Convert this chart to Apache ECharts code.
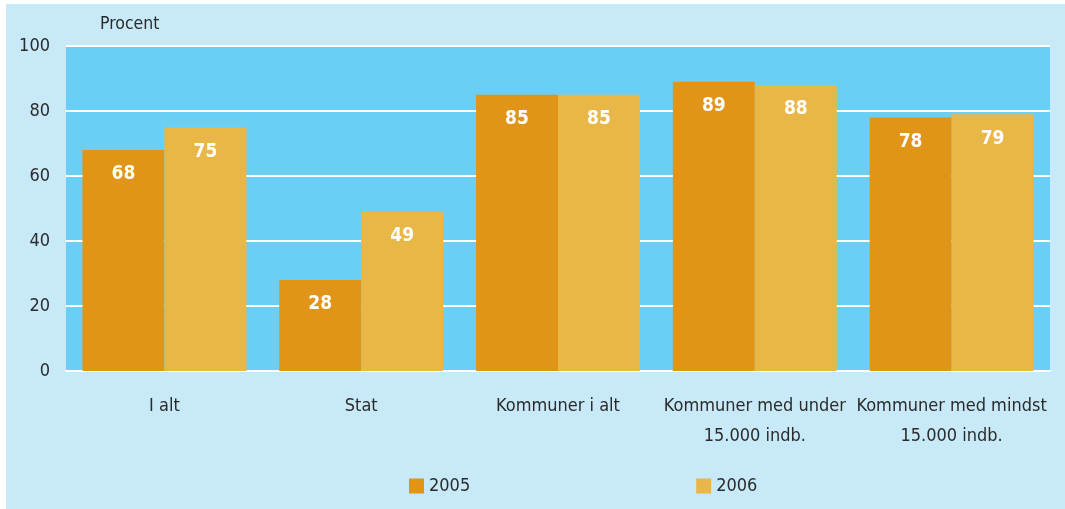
<!DOCTYPE html>
<html>
<head>
<meta charset="utf-8">
<script src="https://cdn.jsdelivr.net/npm/echarts@6/dist/echarts.min.js"></script>
<style>
  html, body { margin: 0; padding: 0; background: #ffffff; }
  #chart { width: 1065px; height: 509px; }
</style>
</head>
<body>
<div id="chart"></div>
<script>
// Andel (procent) efter sektor, 2005 og 2006
const categories = ['I alt', 'Stat', 'Kommuner i alt', 'Kommuner med under\n15.000 indb.', 'Kommuner med mindst\n15.000 indb.'];
const values2005 = [68, 28, 85, 89, 78];
const values2006 = [75, 49, 85, 88, 79];
const yTicks = [0, 20, 40, 60, 80, 100];

const FONT = '"DejaVu Sans Condensed", "Noto Sans", sans-serif';
const chart = echarts.init(document.getElementById('chart'), null, { renderer: 'canvas' });

const barLabel = {
  show: true,
  position: 'insideTop',
  distance: 15,
  color: '#ffffff',
  fontFamily: FONT,
  fontSize: 19,
  fontWeight: 'bold'
};

chart.setOption({
  backgroundColor: '#ffffff',
  animation: false,
  graphic: [{
    type: 'rect',
    z: -10,
    shape: { x: 6, y: 4, width: 1059, height: 505 },
    style: { fill: '#c8eaf8' }
  }, {
    type: 'text',
    left: 100,
    top: 15,
    style: { text: 'Procent', fill: '#2b2b2b', font: '17.5px ' + FONT }
  }],
  grid: {
    left: 66, right: 15, top: 46, bottom: 138,
    show: true, backgroundColor: '#6bcff5', borderWidth: 0
  },
  legend: {
    left: 409, top: 477, padding: 0,
    itemWidth: 15, itemHeight: 15, itemGap: 226,
    icon: 'rect',
    textStyle: { fontFamily: FONT, fontSize: 18, color: '#2b2b2b' },
    data: ['2005', '2006']
  },
  xAxis: {
    type: 'category',
    data: categories,
    axisLine: { show: true, lineStyle: { color: '#ffffff', width: 2 } },
    axisTick: { show: false },
    axisLabel: {
      fontFamily: FONT, fontSize: 18, color: '#2b2b2b',
      lineHeight: 30, margin: 20, interval: 0
    }
  },
  yAxis: {
    type: 'value',
    min: yTicks[0], max: yTicks[yTicks.length - 1], interval: 20,
    axisLine: { show: false },
    axisTick: { show: false },
    axisLabel: { fontFamily: FONT, fontSize: 18, color: '#2b2b2b', margin: 16 },
    splitLine: { lineStyle: { color: '#ffffff', width: 2 } }
  },
  series: [{
    name: '2005',
    type: 'bar',
    data: values2005,
    barGap: '0%',
    barCategoryGap: '16.7%',
    itemStyle: { color: '#e09518' },
    label: barLabel
  }, {
    name: '2006',
    type: 'bar',
    data: values2006,
    itemStyle: { color: '#e8b747' },
    label: barLabel
  }]
});
</script>
</body>
</html>
